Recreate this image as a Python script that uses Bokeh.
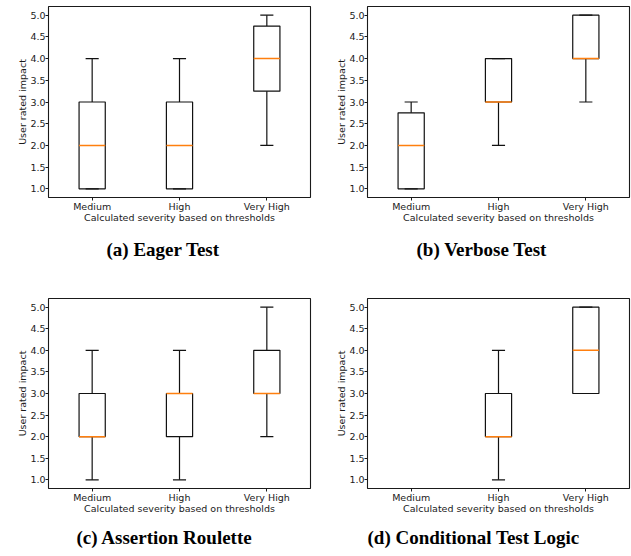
from bokeh.plotting import figure
from bokeh.layouts import column, row
from bokeh.models import Title, FixedTicker, NumeralTickFormatter, Range1d, FactorRange, ColumnDataSource
from bokeh.transform import dodge
from bokeh.embed import file_html
from bokeh.resources import INLINE

categories = ["Medium", "High", "Very High"]
y_ticks = [1.0, 1.5, 2.0, 2.5, 3.0, 3.5, 4.0, 4.5, 5.0]
x_label = "Calculated severity based on thresholds"
y_label = "User rated impact"

# (a) Eager Test
a_cats = ["Medium", "High", "Very High"]
a_low = [1.0, 1.0, 2.0]
a_q1 = [1.0, 1.0, 3.25]
a_med = [2.0, 2.0, 4.0]
a_q3 = [3.0, 3.0, 4.75]
a_high = [4.0, 4.0, 5.0]

# (b) Verbose Test
b_cats = ["Medium", "High", "Very High"]
b_low = [1.0, 2.0, 3.0]
b_q1 = [1.0, 3.0, 4.0]
b_med = [2.0, 3.0, 4.0]
b_q3 = [2.75, 4.0, 5.0]
b_high = [3.0, 4.0, 5.0]

# (c) Assertion Roulette
c_cats = ["Medium", "High", "Very High"]
c_low = [1.0, 1.0, 2.0]
c_q1 = [2.0, 2.0, 3.0]
c_med = [2.0, 3.0, 3.0]
c_q3 = [3.0, 3.0, 4.0]
c_high = [4.0, 4.0, 5.0]

# (d) Conditional Test Logic (no Medium data)
d_cats = ["High", "Very High"]
d_low = [1.0, 3.0]
d_q1 = [2.0, 3.0]
d_med = [2.0, 4.0]
d_q3 = [3.0, 5.0]
d_high = [4.0, 5.0]

captions = ["(a) Eager Test", "(b) Verbose Test", "(c) Assertion Roulette", "(d) Conditional Test Logic"]

TICK_FONT = "DejaVu Sans"
BOX_W = 0.3
CAP_W = 0.15


def make_panel(cats, low, q1, med, q3, high, caption, width, height,
               left, right, top, bottom, cap_offset, cap_standoff):
    p = figure(x_range=FactorRange(*categories, range_padding=0),
               y_range=Range1d(0.8, 5.2),
               width=width, height=height,
               output_backend="svg", toolbar_location=None,
               min_border_left=left, min_border_right=right,
               min_border_top=top, min_border_bottom=bottom)
    p.background_fill_color = "white"
    p.border_fill_color = "white"
    p.outline_line_color = "#1a1a1a"
    p.outline_line_width = 1.1
    p.xgrid.visible = False
    p.ygrid.visible = False

    src = ColumnDataSource(dict(cats=cats, low=low, q1=q1, med=med, q3=q3, high=high))
    lc = "#111111"
    lw = 1.2
    # whiskers
    p.segment(x0="cats", y0="q3", x1="cats", y1="high", source=src, line_color=lc, line_width=lw)
    p.segment(x0="cats", y0="q1", x1="cats", y1="low", source=src, line_color=lc, line_width=lw)
    # caps
    p.segment(x0=dodge("cats", -CAP_W / 2, range=p.x_range), y0="high",
              x1=dodge("cats", CAP_W / 2, range=p.x_range), y1="high",
              source=src, line_color=lc, line_width=lw)
    p.segment(x0=dodge("cats", -CAP_W / 2, range=p.x_range), y0="low",
              x1=dodge("cats", CAP_W / 2, range=p.x_range), y1="low",
              source=src, line_color=lc, line_width=lw)
    # boxes
    p.vbar(x="cats", width=BOX_W, bottom="q1", top="q3", source=src,
           fill_color=None, line_color=lc, line_width=lw)
    # medians
    p.segment(x0=dodge("cats", -BOX_W / 2, range=p.x_range), y0="med",
              x1=dodge("cats", BOX_W / 2, range=p.x_range), y1="med",
              source=src, line_color="#ff7f0e", line_width=1.5)

    for ax in (p.xaxis[0], p.yaxis[0]):
        ax.axis_line_color = None
        ax.major_tick_line_color = "#1a1a1a"
        ax.major_tick_in = 0
        ax.major_tick_out = 3
        ax.minor_tick_line_color = None
        ax.major_label_text_font = TICK_FONT
        ax.major_label_text_font_size = "9.5px"
        ax.major_label_text_color = "#1a1a1a"
        ax.axis_label_text_font = TICK_FONT
        ax.axis_label_text_font_size = "9.5px"
        ax.axis_label_text_font_style = "normal"
        ax.axis_label_text_color = "#1a1a1a"

    p.xaxis.axis_label = x_label
    p.xaxis.major_label_standoff = 0
    p.xaxis.axis_label_standoff = -3
    p.yaxis.axis_label = y_label
    p.yaxis.major_label_standoff = 0
    p.yaxis.axis_label_standoff = -1
    p.yaxis.ticker = FixedTicker(ticks=y_ticks)
    p.yaxis.formatter = NumeralTickFormatter(format="0.0")

    p.add_layout(Title(text=caption, align="left", offset=cap_offset,
                       text_font="Liberation Serif", text_font_style="bold",
                       text_font_size="19px", text_color="black",
                       standoff=cap_standoff), "below")
    return p


pa = make_panel(a_cats, a_low, a_q1, a_med, a_q3, a_high, captions[0],
                315, 280, 48, 5, 6, 83, 58, 22)
pb = make_panel(b_cats, b_low, b_q1, b_med, b_q3, b_high, captions[1],
                316, 280, 52, 2, 6, 83, 49, 22)
pc = make_panel(c_cats, c_low, c_q1, c_med, c_q3, c_high, captions[2],
                315, 276, 48, 5, 18, 68, 28, 16)
pd = make_panel(d_cats, d_low, d_q1, d_med, d_q3, d_high, captions[3],
                316, 276, 52, 2, 18, 68, 0, 16)

layout = column(row(pa, pb), row(pc, pd))
open("out.html", "w").write(file_html(layout, INLINE))
